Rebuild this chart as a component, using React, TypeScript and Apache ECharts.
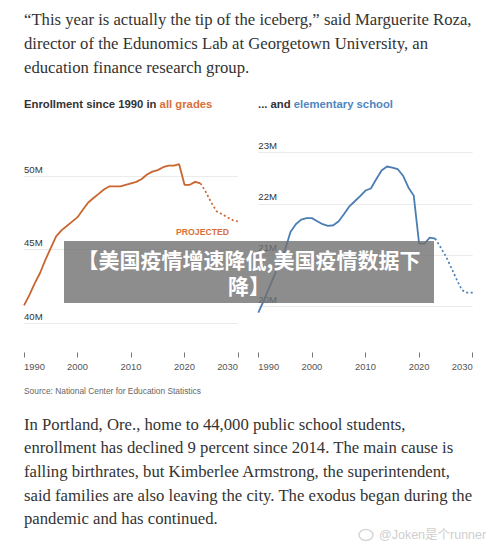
import React, { useEffect, useRef } from "react";
import * as echarts from "echarts";

// ---- data ----
const actualYears = [1990, 1991, 1992, 1993, 1994, 1995, 1996, 1997, 1998, 1999, 2000, 2001, 2002, 2003, 2004, 2005, 2006, 2007, 2008, 2009, 2010, 2011, 2012, 2013, 2014, 2015, 2016, 2017, 2018, 2019, 2020, 2021, 2022, 2023];
const allGradesActual = [41.2, 41.9, 42.7, 43.4, 44.3, 45.1, 45.9, 46.3, 46.6, 46.9, 47.2, 47.7, 48.2, 48.5, 48.8, 49.1, 49.3, 49.3, 49.3, 49.4, 49.5, 49.6, 49.8, 50.1, 50.3, 50.4, 50.6, 50.7, 50.7, 50.8, 49.4, 49.4, 49.6, 49.5];
const elementaryActual = [19.87, 20.1, 20.35, 20.6, 20.85, 21.1, 21.45, 21.6, 21.69, 21.72, 21.72, 21.66, 21.6, 21.57, 21.58, 21.66, 21.8, 21.95, 22.05, 22.15, 22.26, 22.3, 22.48, 22.65, 22.73, 22.71, 22.68, 22.55, 22.32, 22.16, 21.22, 21.22, 21.34, 21.32];
const projectedYears = [2023, 2024, 2025, 2026, 2027, 2028, 2029, 2030];
const allGradesProjected = [49.5, 48.9, 48.2, 47.6, 47.4, 47.2, 47.0, 46.9];
const elementaryProjected = [21.32, 21.15, 20.97, 20.75, 20.52, 20.31, 20.26, 20.26];

const xTicks = [1990, 2000, 2010, 2020, 2030];
const leftYTicks = [40, 45, 50];
const rightYTicks = [20, 21, 22, 23];

const topParagraph = [
  "\u201CThis year is actually the tip of the iceberg,\u201D said Marguerite Roza,",
  "director of the Edunomics Lab at Georgetown University, an",
  "education finance research group.",
];
const bottomParagraph = [
  "In Portland, Ore., home to 44,000 public school students,",
  "enrollment has declined 9 percent since 2014. The main cause is",
  "falling birthrates, but Kimberlee Armstrong, the superintendent,",
  "said families are also leaving the city. The exodus began during the",
  "pandemic and has continued.",
];
const leftTitle = ["Enrollment since 1990 in ", "all grades"];
const rightTitle = ["... and ", "elementary school"];
const sourceText = "Source: National Center for Education Statistics";
const projectedLabel = "PROJECTED";
const bannerLines = ["\u3010美国疫情增速降低,美国疫情数据下", "降\u3011"];
const weiboMark = "@Joken是个runner";

const ORANGE = "#c9662f";
const ORANGE_TXT = "#d8703a";
const BLUE = "#4a7db4";
const BLUE_TXT = "#4f86c1";
const SANS = '"Liberation Sans", Arial, sans-serif';
const SERIF = '"Liberation Serif", "Times New Roman", serif';

const pairs = (xs: number[], ys: number[]) => xs.map((x, i) => [x, ys[i]]);

export default function App() {
  const ref = useRef<HTMLDivElement>(null);
  useEffect(() => {
    document.body.style.margin = "0";
    const chart = echarts.init(ref.current!, undefined, { renderer: "svg" });

    const xAxisBase = (gridIndex: number, offset: number) => ({
      type: "value",
      gridIndex,
      min: 1990,
      max: 2030,
      interval: 10,
      offset,
      axisLine: { show: false },
      axisTick: { show: true, length: 5, lineStyle: { color: "#777", width: 1 } },
      splitLine: { show: false },
      axisLabel: {
        margin: 9.5,
        fontSize: 9.4,
        fontFamily: SANS,
        color: "#555",
        alignMinLabel: "left",
        alignMaxLabel: "right",
        formatter: (v: number) => (xTicks.includes(v) ? String(v) : ""),
      },
    });

    const yAxisBase = (gridIndex: number, min: number, max: number, interval: number, ticks: number[]) => ({
      type: "value",
      gridIndex,
      min,
      max,
      interval,
      axisLine: { show: false },
      axisTick: { show: false },
      splitLine: { show: true, lineStyle: { color: "#ebebeb", width: 1 } },
      axisLabel: {
        inside: true,
        margin: 0,
        verticalAlign: "bottom",
        padding: [0, 0, 2, 0],
        fontSize: 9.6,
        fontFamily: SANS,
        color: "#333",
        formatter: (v: number) => (ticks.includes(v) ? v + "M" : ""),
      },
    });

    const text = (x: number, y: number, t: string, style: any, extra: any = {}) => ({
      type: "text",
      x,
      y,
      z: 50,
      silent: true,
      style: { text: t, verticalAlign: "middle", ...style },
      ...extra,
    });

    const serifStyle = { fill: "#333", fontSize: 16.7, fontFamily: SERIF };
    const graphics: any[] = [];
    topParagraph.forEach((line, i) => graphics.push(text(24, 19.5 + i * 24, line, serifStyle)));
    bottomParagraph.forEach((line, i) => graphics.push(text(24, 424 + i * 23.7, line, serifStyle)));

    graphics.push({
      type: "text",
      x: 24,
      y: 104,
      z: 50,
      style: {
        text: `{a|${leftTitle[0]}}{b|${leftTitle[1]}}`,
        verticalAlign: "middle",
        rich: {
          a: { fontSize: 11.3, fontWeight: "bold", fontFamily: SANS, fill: "#333" },
          b: { fontSize: 11.3, fontWeight: "bold", fontFamily: SANS, fill: ORANGE_TXT },
        },
      },
    });
    graphics.push({
      type: "text",
      x: 258,
      y: 104,
      z: 50,
      style: {
        text: `{a|${rightTitle[0]}}{b|${rightTitle[1]}}`,
        verticalAlign: "middle",
        rich: {
          a: { fontSize: 11.3, fontWeight: "bold", fontFamily: SANS, fill: "#333" },
          b: { fontSize: 11.3, fontWeight: "bold", fontFamily: SANS, fill: BLUE_TXT },
        },
      },
    });
    graphics.push(text(24, 391, sourceText, { fill: "#666", fontSize: 8.4, fontFamily: SANS }));
    graphics.push(text(176, 231.5, projectedLabel, { fill: ORANGE_TXT, fontSize: 8.7, fontWeight: "bold", fontFamily: SANS }));

    // banner overlay
    graphics.push({
      type: "rect",
      z: 100,
      silent: true,
      shape: { x: 64, y: 241, width: 370, height: 62 },
      style: { fill: "rgba(112,112,112,0.8)" },
    });
    graphics.push({
      type: "text",
      x: 249,
      y: 272,
      z: 101,
      silent: true,
      style: {
        text: bannerLines.join("\n"),
        align: "center",
        verticalAlign: "middle",
        lineHeight: 26,
        fill: "#fff",
        fontSize: 21,
        fontWeight: "bold",
        fontFamily: '"Noto Sans CJK SC", sans-serif',
      },
    });
    // weibo watermark
    graphics.push({
      type: "ellipse",
      z: 50,
      silent: true,
      shape: { cx: 366, cy: 535, rx: 7, ry: 5.5 },
      style: { fill: "none", stroke: "#d6d6d6", lineWidth: 1.5 },
    });
    graphics.push(text(379, 535, weiboMark, { fill: "#cfcfcf", fontSize: 12.5, fontFamily: '"Liberation Sans", "Noto Sans CJK SC", sans-serif' }));

    const lineSeries = (xi: number, data: number[][], color: string, dashed: boolean) => ({
      type: "line",
      xAxisIndex: xi,
      yAxisIndex: xi,
      data,
      showSymbol: false,
      symbol: "none",
      clip: false,
      smooth: false,
      lineStyle: dashed
        ? { color, width: 1.7, type: [2, 2.5] }
        : { color, width: 1.8 },
      z: 5,
    });

    chart.setOption({
      animation: false,
      backgroundColor: "#fff",
      grid: [
        { left: 24, top: 176, width: 214, height: 147, containLabel: false },
        { left: 258.3, top: 152.7, width: 214.4, height: 153.3, containLabel: false },
      ],
      xAxis: [xAxisBase(0, 29.5), xAxisBase(1, 46.5)],
      yAxis: [yAxisBase(0, 40, 50, 5, leftYTicks), yAxisBase(1, 20, 23, 1, rightYTicks)],
      series: [
        lineSeries(0, pairs(actualYears, allGradesActual), ORANGE, false),
        lineSeries(0, pairs(projectedYears, allGradesProjected), ORANGE, true),
        lineSeries(1, pairs(actualYears, elementaryActual), BLUE, false),
        lineSeries(1, pairs(projectedYears, elementaryProjected), BLUE, true),
      ],
      graphic: graphics,
    });
    return () => chart.dispose();
  }, []);
  return (
    <div
      ref={ref}
      style={{ position: "absolute", left: 0, top: 0, width: 500, height: 546, background: "#fff" }}
    />
  );
}
